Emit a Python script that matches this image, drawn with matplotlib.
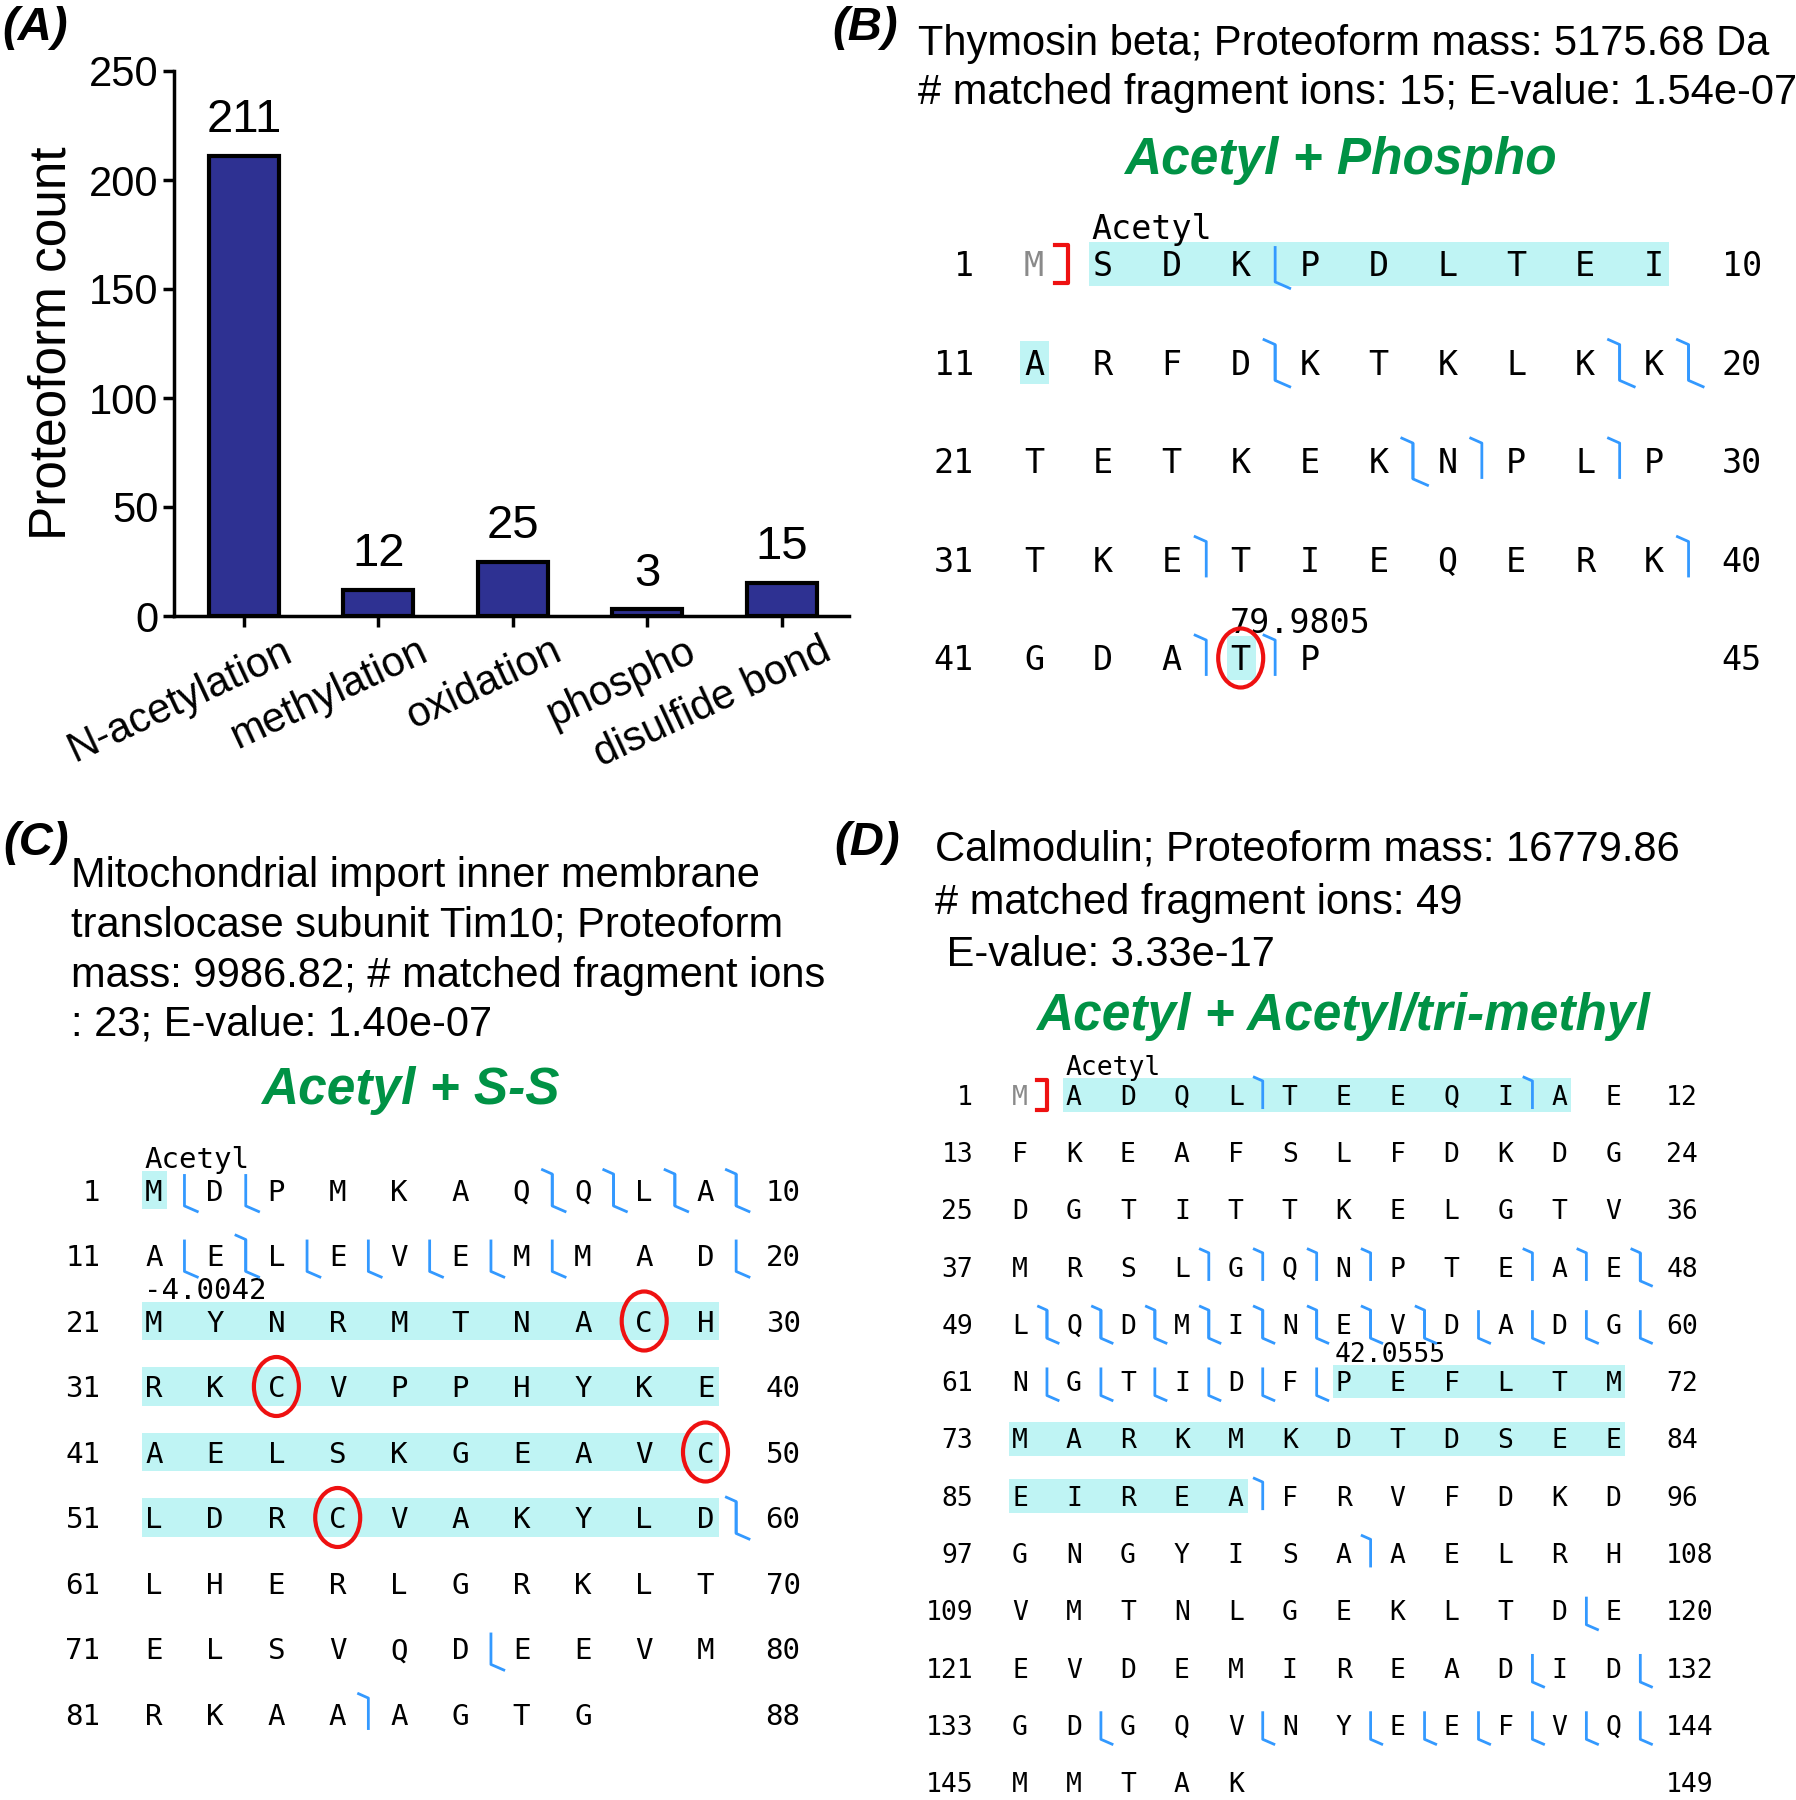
import matplotlib
matplotlib.use("Agg")
import matplotlib.pyplot as plt
import matplotlib.transforms as mtransforms
from matplotlib.patches import Rectangle, Ellipse

plt.rcParams['font.family'] = ['Liberation Sans', 'DejaVu Sans']

W, H, DPI = 1796, 1800, 100
SANS = 'Liberation Sans'
MONO = 'DejaVu Sans Mono'
GREEN = '#009245'
BLUE = '#3399FF'
RED = '#EE1111'
CYAN = '#BFF4F4'
NAVY = '#2E3192'

# (A) PTM counts
ptm_names = ["N-acetylation", "methylation", "oxidation", "phospho", "disulfide bond"]
ptm_counts = [211, 12, 25, 3, 15]

# (B) Thymosin beta
thy_info = ["Thymosin beta; Proteoform mass: 5175.68 Da",
            "# matched fragment ions: 15; E-value: 1.54e-07"]
thy_title = "Acetyl + Phospho"
thy_seq = "MSDKPDLTEI" "ARFDKTKLKK" "TETKEKNPLP" "TKETIEQERK" "GDATP"
thy_top = [14, 19, 20, 26, 27, 29, 33, 40, 43, 44]
thy_bottom = [4, 14, 19, 20, 26]
thy_shaded = [(2, 11), (44, 44)]
thy_circled = [44]
thy_mods = [(2, "Acetyl"), (44, "79.9805")]

# (C) Tim10
tim_info = ["Mitochondrial import inner membrane",
            "translocase subunit Tim10; Proteoform",
            "mass: 9986.82; # matched fragment ions",
            ": 23; E-value: 1.40e-07"]
tim_title = "Acetyl + S-S"
tim_seq = ("MDPMKAQQLA" "AELEVEMMAD" "MYNRMTNACH" "RKCVPPHYKE" "AELSKGEAVC"
           "LDRCVAKYLD" "LHERLGRKLT" "ELSVQDEEVM" "RKAAAGTG")
tim_top = [7, 8, 9, 10, 12, 60, 84]
tim_bottom = [1, 2, 7, 8, 9, 10, 11, 12, 13, 14, 15, 16, 17, 20, 60, 76]
tim_shaded = [(1, 1), (21, 60)]
tim_circled = [29, 33, 50, 54]
tim_mods = [(1, "Acetyl"), (21, "-4.0042")]

# (D) Calmodulin
cam_info = ["Calmodulin; Proteoform mass: 16779.86",
            "# matched fragment ions: 49",
            " E-value: 3.33e-17"]
cam_title = "Acetyl + Acetyl/tri-methyl"
cam_seq = ("MADQLTEEQIAE" "FKEAFSLFDKDG" "DGTITTKELGTV" "MRSLGQNPTEAE"
           "LQDMINEVDADG" "NGTIDFPEFLTM" "MARKMKDTDSEE" "EIREAFRVFDKD"
           "GNGYISAAELRH" "VMTNLGEKLTDE" "EVDEMIREADID" "GDGQVNYEEFVQ" "MMTAK")
cam_top = [5, 10, 40, 41, 42, 43, 46, 47, 48, 49, 50, 51, 52, 53, 54, 55, 56, 89, 103]
cam_bottom = [48, 49, 50, 51, 52, 53, 54, 55, 56, 57, 58, 59, 60, 61, 62, 63, 64, 65, 66,
              119, 130, 132, 134, 137, 139, 140, 141, 142, 143, 144]
cam_shaded = [(2, 11), (67, 89)]
cam_circled = []
cam_mods = [(2, "Acetyl"), (67, "42.0555")]

fig = plt.figure(figsize=(W / DPI, H / DPI), dpi=DPI)
canvas = fig.add_axes([0, 0, 1, 1])
canvas.set_xlim(0, W)
canvas.set_ylim(H, 0)
canvas.axis('off')


def em(fs):
    return fs * DPI / 72


def label(x, yc, s, fs, cap=0.716, **kw):
    # place text so that its cap height is centred on yc
    kw.setdefault('family', SANS)
    canvas.text(x, yc + cap * em(fs) / 2, s, fontsize=fs, va='baseline', **kw)


def draw_sequence(seq, per_row, x0, y0, dx, dy, fs, top, bottom, shaded, circled,
                  mods, cleaved=False):
    cap = 0.729

    def where(k):
        r, c = divmod(k - 1, per_row)
        return x0 + c * dx, y0 + r * dy

    for a, b in shaded:
        k = a
        while k <= b:
            r = (k - 1) // per_row
            end = min(b, (r + 1) * per_row)
            xa, y = where(k)
            xb, _ = where(end)
            canvas.add_patch(Rectangle((xa - 0.2 * dx, y - 0.315 * dx),
                                       xb - xa + 0.42 * dx, 0.63 * dx,
                                       facecolor=CYAN, lw=0, zorder=1))
            k = end + 1

    nrows = (len(seq) + per_row - 1) // per_row
    for r in range(nrows):
        y = y0 + r * dy
        label(x0 - 0.87 * dx, y, str(r * per_row + 1), fs, cap=cap, family=MONO, ha='right')
        label(x0 + per_row * dx - 0.02 * dx, y, str(min((r + 1) * per_row, len(seq))), fs,
              cap=cap, family=MONO, ha='left')

    for i, aa in enumerate(seq):
        x, y = where(i + 1)
        col = '#8a8a8a' if (cleaved and i == 0) else 'black'
        label(x, y, aa, fs, cap=cap, family=MONO, ha='center', color=col, zorder=3)

    h = 0.26 * dx
    for k in top:
        x, y = where(k)
        x += dx / 2
        canvas.plot([x - 0.18 * dx, x, x], [y - h - 0.08 * dx, y - h, y + h],
                    color=BLUE, lw=2, zorder=4, solid_capstyle='butt')
    for k in bottom:
        x, y = where(k)
        x += dx / 2
        canvas.plot([x, x, x + 0.23 * dx], [y - h, y + h, y + h + 0.1 * dx],
                    color=BLUE, lw=2, zorder=4, solid_capstyle='butt')

    if cleaved:
        x, y = where(1)
        x += dx / 2
        canvas.plot([x - 0.19 * dx, x, x, x - 0.19 * dx],
                    [y - 0.27 * dx, y - 0.27 * dx, y + 0.27 * dx, y + 0.27 * dx],
                    color=RED, lw=3, zorder=4)

    for k in circled:
        x, y = where(k)
        canvas.add_patch(Ellipse((x, y), 45, 59, fill=False, ec=RED, lw=3, zorder=5))

    for k, txt in mods:
        x, y = where(k)
        label(x - 0.16 * dx, y - 0.54 * dx, txt, fs, cap=cap, family=MONO, ha='left', zorder=3)


# panel letters
for x, yc, s in [(2, 23, "(A)"), (832, 23, "(B)"), (3, 838, "(C)"), (834, 838, "(D)")]:
    label(x, yc, s, 34, fontweight='bold', fontstyle='italic', ha='left')

# ---- (A) bar chart ----
axA = fig.add_axes([174 / W, 1 - 616 / H, (849 - 174) / W, (616 - 71) / H])
xs = list(range(len(ptm_names)))
axA.bar(xs, ptm_counts, width=0.52, color=NAVY, edgecolor='black', linewidth=3, zorder=2)
axA.set_xlim(-0.52, 4.5)
axA.set_ylim(0, 250)
axA.set_yticks(range(0, 251, 50))
axA.set_xticks(xs)
axA.set_xticklabels([])
shift = mtransforms.ScaledTranslation(0.38, -0.15, fig.dpi_scale_trans)
for i, name in enumerate(ptm_names):
    axA.text(i, 0, name, transform=axA.get_xaxis_transform() + shift, rotation=25,
             ha='right', va='top', rotation_mode='anchor', fontsize=30)
for s in ['top', 'right']:
    axA.spines[s].set_visible(False)
for s in ['left', 'bottom']:
    axA.spines[s].set_linewidth(2.5)
axA.tick_params(width=2.5, length=8, labelsize=30, pad=3)
axA.set_ylabel('Proteoform count', fontsize=37)
axA.yaxis.set_label_coords(-0.145, 0.5)
for i, v in enumerate(ptm_counts):
    axA.annotate(str(v), (i, v), xytext=(0, 10), textcoords='offset points',
                 ha='center', va='bottom', fontsize=34)

# ---- (B) ----
label(918, 40, thy_info[0], 30, ha='left')
label(918, 89.5, thy_info[1], 30, ha='left')
label(1340, 156, thy_title, 37, ha='center', color=GREEN, fontweight='bold', fontstyle='italic')
draw_sequence(thy_seq, 10, 1034, 264, 68.9, 98.5, 24, thy_top, thy_bottom, thy_shaded,
              thy_circled, thy_mods, cleaved=True)

# ---- (C) ----
for yc, line in zip([872, 921.5, 972, 1021], tim_info):
    label(71, yc, line, 30, ha='left')
label(410, 1086, tim_title, 37, ha='center', color=GREEN, fontweight='bold', fontstyle='italic')
draw_sequence(tim_seq, 10, 153.8, 1190, 61.3, 65.5, 21, tim_top, tim_bottom, tim_shaded,
              tim_circled, tim_mods)

# ---- (D) ----
for yc, line in zip([846, 898.6, 951.4], cam_info):
    label(935, yc, line, 30, ha='left')
label(1343, 1012, cam_title, 37, ha='center', color=GREEN, fontweight='bold', fontstyle='italic')
draw_sequence(cam_seq, 12, 1020, 1095, 53.94, 57.3, 19, cam_top, cam_bottom, cam_shaded,
              cam_circled, cam_mods, cleaved=True)

fig.savefig('out.png', dpi=DPI)
